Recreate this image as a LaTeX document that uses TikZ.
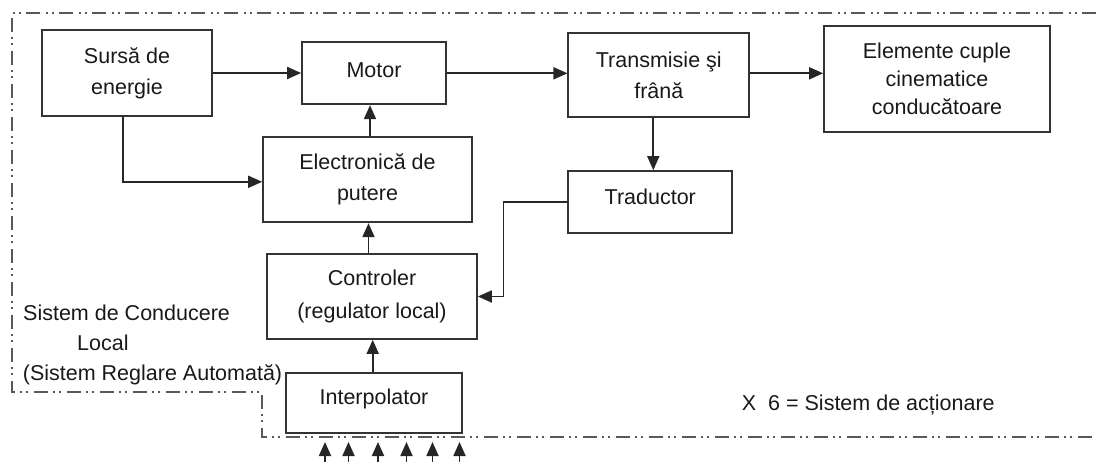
\documentclass[tikz,border=0pt]{standalone}
\usepackage{fontspec}
\setmainfont{Liberation Sans}
\usetikzlibrary{arrows.meta}
\begin{document}
\begin{tikzpicture}[x=1pt,y=-1pt,
  box/.style={draw=black!80, line width=1.7pt, inner sep=0pt, align=center, text=black!90,
    font=\fontsize{21.5}{31}\selectfont},
  arr/.style={draw=black!85, line width=1.8pt, -{Triangle[length=14pt,width=12pt]}},
  frameline/.style={draw=black!65, line width=1.6pt,
    dash pattern=on 14pt off 5pt on 2pt off 4pt on 2pt off 6pt},
  lbl/.style={inner sep=0pt, anchor=west, text=black!90, text height=15pt, text depth=0pt,
    font=\fontsize{21.5}{31}\selectfont}]
\useasboundingbox (0,0) rectangle (1096,461);

% frame of the local control system
\draw[frameline] (1096,13) -- (12,13) -- (12,392) -- (262,392) -- (262,437) -- (1096,437);

% blocks
\node[box, minimum width=170pt, minimum height=86pt] (sursa) at (127,73) {Sursă de\\energie};
\node[box, minimum width=144pt, minimum height=62pt, text height=15.5pt, text depth=6.3pt] (motor) at (374,73.3) {Motor};
\node[box, minimum width=209pt, minimum height=85pt] (elec) at (367.5,179.8) {Electronică de\\putere};
\node[box, minimum width=181pt, minimum height=84pt] (trans) at (658.8,75.3) {Transmisie şi\\frână};
\node[box, minimum width=226pt, minimum height=106pt, font=\fontsize{21.5}{28}\selectfont] (elem) at (937,79) {Elemente cuple\\cinematice\\conducătoare};
\node[box, minimum width=164pt, minimum height=62pt, text height=15.5pt, text depth=10.3pt] (trad) at (650.3,202) {Traductor};
\node[box, minimum width=210pt, minimum height=85pt, font=\fontsize{21.5}{33}\selectfont] (ctrl) at (372,296.5) {Controler\\(regulator local)};
\node[box, minimum width=176pt, minimum height=60pt, text height=15.5pt, text depth=12.5pt] (interp) at (374,403) {Interpolator};

% labels
\node[lbl] (l1) at (23,313) {Sistem de Conducere};
\node[lbl] (l2) at (77,343) {Local};
\node[lbl] (l3) at (22.7,373) {(Sistem Reglare Automată)};
\node[lbl] (l4) at (741.7,402.7) {X\ \ 6 = Sistem de acționare};

% connectors
\draw[arr] (sursa.east) -- (sursa.east -| motor.west);
\draw[arr] (motor.east) -- (motor.east -| trans.west);
\draw[arr] (motor.east -| trans.east) -- (motor.east -| elem.west);
\draw[arr] ([xshift=-4pt]sursa.south) |- ([yshift=-2pt]elec.west);
\draw[arr] ([xshift=2.5pt]elec.north) -- ([xshift=2.5pt]elec.north |- motor.south);
\coordinate (tt) at ([xshift=3pt]trad.north);
\draw[arr] (tt |- trans.south) -- (tt);
\draw[arr] (trad.west) -- ++(-64,0) |- (ctrl.east);
\draw[arr] ([xshift=-3.5pt]ctrl.north) -- ([xshift=-3.5pt]ctrl.north |- elec.south);
\draw[arr] ([xshift=-1.3pt]interp.north) -- ([xshift=-1.3pt]interp.north |- ctrl.south);

% inputs of the interpolator
\foreach \i/\x in {1/325,2/348.5,3/378,4/406.5,5/432.5,6/459.5} {
  \coordinate (in\i) at (\x,442);
  \coordinate (src\i) at (\x,463);
  \draw[arr] (src\i) -- (in\i);
}
\end{tikzpicture}
\end{document}
